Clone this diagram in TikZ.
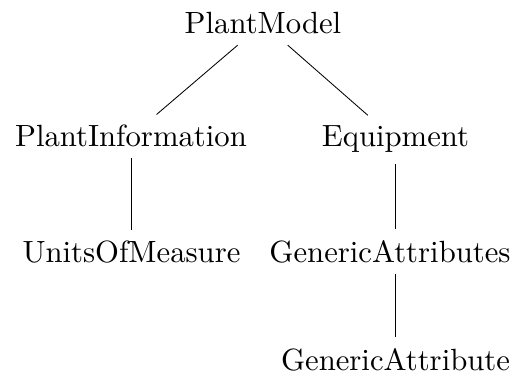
\documentclass[tikz,border=0pt]{standalone}
\begin{document}
\begin{tikzpicture}[x=1pt,y=1pt,
  treenode/.style={font=\fontsize{10}{12}\selectfont, scale=3.07, anchor=base},
  edge/.style={draw=black, line width=0.85pt}]
  \useasboundingbox (0,0) rectangle (517,378);
  % hierarchy nodes (base line positions)
  \node[treenode] (pm)  at (263,344)   {PlantModel};
  \node[treenode] (pi)  at (131,231)   {PlantInformation};
  \node[treenode] (eq)  at (395.5,231) {Equipment};
  \node[treenode] (uom) at (131.5,116) {UnitsOfMeasure};
  \node[treenode] (gas) at (390,116)   {GenericAttributes};
  \node[treenode] (ga)  at (395.5,8)   {GenericAttribute};
  % connectors
  \draw[edge] (pm) -- (pi);
  \draw[edge] (pm) -- (eq);
  \draw[edge] (pi.south) -- (pi.south |- uom.north);
  \draw[edge] (eq.south) -- (eq.south |- gas.north);
  \draw[edge] (gas.south -| eq.south) -- (ga.north);
\end{tikzpicture}
\end{document}
